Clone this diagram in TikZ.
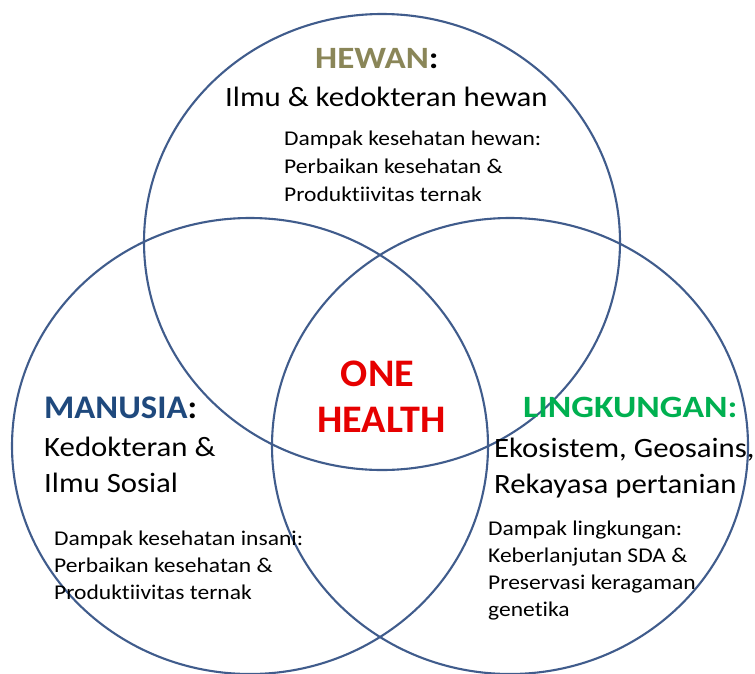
\documentclass[tikz,border=0pt]{standalone}
\usepackage{fontspec}
\setmainfont{Carlito}[Ligatures=NoCommon]
\usetikzlibrary{shapes.geometric}
\definecolor{vennline}{RGB}{64,92,140}
\definecolor{hewancol}{RGB}{138,134,88}
\definecolor{manusiacol}{RGB}{31,73,125}
\definecolor{lingcol}{RGB}{0,176,80}
\definecolor{onecol}{RGB}{230,0,0}
\tikzset{
  venn/.style={draw=vennline, line width=2.1pt, ellipse, inner sep=0pt,
    minimum width=476pt, minimum height=456pt},
  txt/.style={anchor=base west, inner sep=0pt, text=black},
  hewanhead/.style={txt, font=\fontsize{31}{31}\selectfont\bfseries\addfontfeatures{FakeStretch=1.13}},
  manhead/.style={txt, font=\fontsize{33}{33}\selectfont\bfseries\addfontfeatures{FakeStretch=1.05}},
  linghead/.style={txt, font=\fontsize{31}{31}\selectfont\bfseries\addfontfeatures{FakeStretch=1.15}},
  sub/.style={txt, font=\fontsize{28}{28}\selectfont\addfontfeatures{FakeStretch=1.1}},
  small/.style={txt, font=\fontsize{21}{21}\selectfont\addfontfeatures{FakeStretch=1.12}},
  big/.style={anchor=base, inner sep=0pt, text=onecol, font=\fontsize{39}{39}\selectfont\bfseries\addfontfeatures{FakeStretch=1.03}}
}
\begin{document}
\begin{tikzpicture}[x=1pt,y=-1pt]
\useasboundingbox (0,0) rectangle (755,673);
\clip (0,0) rectangle (755,673);
\fill[white] (0,0) rectangle (755,673);
\node[venn] (hewanC) at (382,242) {};
\node[venn] (manusiaC) at (250,446) {};
\node[venn] (lingC) at (510,446) {};
% HEWAN
\node[hewanhead] (hewanT) at (315,68) {\textcolor{hewancol}{HEWAN}:};
\node[sub] (hewanS) at (225,106) {Ilmu \& kedokteran hewan};
\node[small] (hewanD1) at (284,145) {Dampak kesehatan hewan:};
\node[small] (hewanD2) at (284,173) {Perbaikan kesehatan \&};
\node[small] (hewanD3) at (284,201) {Produktiivitas ternak};
% MANUSIA
\node[manhead] (manT) at (44,418) {\textcolor{manusiacol}{MANUSIA}:};
\node[sub] (manS1) at (44,456) {Kedokteran \&};
\node[sub] (manS2) at (44,492) {Ilmu Sosial};
\node[small] (manD1) at (54,545) {Dampak kesehatan insani:};
\node[small] (manD2) at (54,572) {Perbaikan kesehatan \&};
\node[small] (manD3) at (54,599) {Produktiivitas ternak};
% ONE HEALTH
\node[big] (one) at (377.5,386) {ONE};
\node[big] (health) at (381.5,432) {HEALTH};
% LINGKUNGAN
\node[linghead] (lingT) at (523,417) {\textcolor{lingcol}{LINGKUNGAN:}};
\node[sub] (lingS1) at (494,457) {Ekosistem, Geosains,};
\node[sub] (lingS2) at (494,493) {Rekayasa pertanian};
\node[small] (lingD1) at (488,535) {Dampak lingkungan:};
\node[small] (lingD2) at (488,562) {Keberlanjutan SDA \&};
\node[small] (lingD3) at (488,589) {Preservasi keragaman};
\node[small] (lingD4) at (488,616) {genetika};
\end{tikzpicture}
\end{document}
